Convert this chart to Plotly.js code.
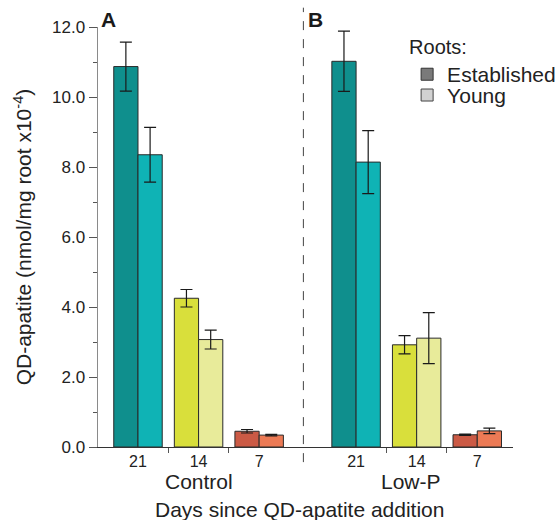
<!DOCTYPE html>
<html>
<head>
<meta charset="utf-8">
<script src="https://cdn.plot.ly/plotly-3.0.1.min.js"></script>
<style>
  html, body { margin: 0; padding: 0; background: #fff; }
  #chart { width: 560px; height: 520px; }
</style>
</head>
<body>
<div id="chart"></div>
<script>
// ---- data ----
const treatments = ['Control', 'Low-P'];
const days = ['21', '14', '7'];
const established = [10.87, 4.25, 0.45, 11.02, 2.92, 0.35];
const establishedErr = [0.70, 0.25, 0.05, 0.86, 0.26, 0.02];
const young = [8.35, 3.07, 0.34, 8.14, 3.11, 0.46];
const youngErr = [0.78, 0.27, 0.02, 0.90, 0.73, 0.08];
const panelLabels = ['A', 'B'];

// ---- styles ----
const estColors = ['#0f8f8d', '#d9df3b', '#cb5a45'];
const youngColors = ['#0fb3b5', '#e8eb9a', '#ec7a55'];
const groupStep = 3.6;

const xs = [];
const tickText = [];
const estC = [], youngC = [];
treatments.forEach((t, g) => {
  days.forEach((d, i) => {
    xs.push(g * groupStep + i);
    tickText.push(d);
    estC.push(estColors[i]);
    youngC.push(youngColors[i]);
  });
});
const minorTicks = [];
treatments.forEach((t, g) => {
  for (let i = 0; i < days.length - 1; i++) minorTicks.push(g * groupStep + i + 0.5);
});
const separator = 2.73;

const font = 'Liberation Sans, Arial, sans-serif';
const errStyle = (arr) => ({type: 'data', array: arr, visible: true, color: '#1a1a1a', thickness: 1.2, width: 6});

const traces = [
  {
    type: 'bar', x: xs, y: established, offset: -0.4, width: 0.4,
    marker: {color: estC, line: {color: '#2a2a2a', width: 1}},
    error_y: errStyle(establishedErr), showlegend: false, hoverinfo: 'y'
  },
  {
    type: 'bar', x: xs, y: young, offset: 0, width: 0.4,
    marker: {color: youngC, line: {color: '#2a2a2a', width: 1}},
    error_y: errStyle(youngErr), showlegend: false, hoverinfo: 'y'
  },
  {
    type: 'bar', x: [null], y: [null], name: 'Established', legend: 'legend',
    marker: {color: '#7a7a7a', line: {color: '#333', width: 1}}, showlegend: true
  },
  {
    type: 'bar', x: [null], y: [null], name: 'Young', legend: 'legend2',
    marker: {color: '#d2d2d2', line: {color: '#444', width: 1}}, showlegend: true
  }
];

const annotations = [
  {text: '<b>' + panelLabels[0] + '</b>', xref: 'paper', yref: 'paper', x: 0.002, y: 1.017, xanchor: 'left', yanchor: 'middle', showarrow: false, font: {size: 21, color: '#1a1a1a'}},
  {text: '<b>' + panelLabels[1] + '</b>', xref: 'paper', yref: 'paper', x: 0.5, y: 1.017, xanchor: 'left', yanchor: 'middle', showarrow: false, font: {size: 21, color: '#1a1a1a'}},
  {text: treatments[0], xref: 'x', yref: 'paper', x: 1, y: -0.083, xanchor: 'center', yanchor: 'middle', showarrow: false, font: {size: 21, color: '#222'}},
  {text: treatments[1], xref: 'x', yref: 'paper', x: 4.5, y: -0.083, xanchor: 'center', yanchor: 'middle', showarrow: false, font: {size: 21, color: '#222'}},
  {text: 'Days since QD-apatite addition', xref: 'paper', yref: 'paper', x: 0.485, y: -0.148, xanchor: 'center', yanchor: 'middle', showarrow: false, font: {size: 21, color: '#222'}}
];

const layout = {
  width: 560, height: 520,
  margin: {l: 98, r: 47, t: 27, b: 73, autoexpand: false},
  paper_bgcolor: '#fff', plot_bgcolor: '#fff',
  font: {family: font, color: '#222'},
  barmode: 'overlay',
  xaxis: {
    range: [-0.66, 6.19], showgrid: false, zeroline: false,
    showline: true, linecolor: '#333', linewidth: 1,
    tickmode: 'array', tickvals: xs, ticktext: tickText, ticks: '',
    tickfont: {size: 16, color: '#222'},
    minor: {tickmode: 'array', tickvals: minorTicks, ticks: 'outside', ticklen: 5, tickcolor: '#555', tickwidth: 1}
  },
  yaxis: {
    range: [0, 12], showgrid: false, zeroline: false,
    showline: true, linecolor: '#8a8a8a', linewidth: 1.5,
    tickmode: 'linear', tick0: 0, dtick: 2, tickformat: '.1f',
    ticks: 'outside', ticklen: 8, tickcolor: '#555', tickwidth: 1,
    tickfont: {size: 17, color: '#222'},
    minor: {dtick: 1, ticks: 'outside', ticklen: 4, tickcolor: '#555', tickwidth: 1},
    title: {text: 'QD-apatite (nmol/mg root x10<sup>-4</sup>)', font: {size: 21, color: '#222'}, standoff: 14}
  },
  shapes: [
    {type: 'line', xref: 'x', yref: 'paper', x0: separator, x1: separator, y0: -0.036, y1: 1.046,
     line: {color: '#444', width: 1, dash: 'dash'}}
  ],
  legend: {
    title: {text: 'Roots:', font: {size: 20, color: '#222'}},
    xref: 'container', yref: 'container',
    x: 0.727, y: 0.946, xanchor: 'left', yanchor: 'top',
    bgcolor: 'rgba(0,0,0,0)', borderwidth: 0,
    font: {size: 21, color: '#222'}
  },
  legend2: {
    xref: 'container', yref: 'container',
    x: 0.727, y: 0.856, xanchor: 'left', yanchor: 'top',
    bgcolor: 'rgba(0,0,0,0)', borderwidth: 0,
    font: {size: 21, color: '#222'}
  },
  annotations: annotations
};

Plotly.newPlot('chart', traces, layout, {displayModeBar: false, staticPlot: true});
</script>
</body>
</html>
